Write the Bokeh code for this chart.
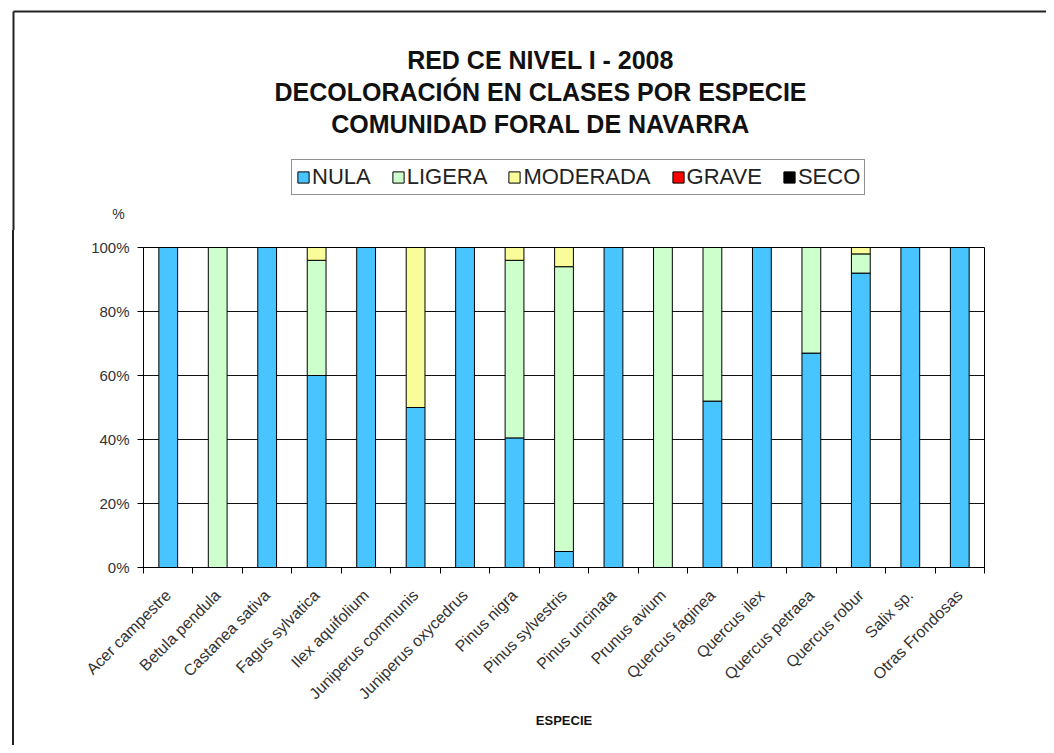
import math
from bokeh.plotting import figure
from bokeh.layouts import column, row
from bokeh.models import (ColumnDataSource, Legend, LegendItem, Label, Div,
                          FixedTicker, PrintfTickFormatter)
from bokeh.embed import file_html
from bokeh.resources import INLINE

# ---------------- data ----------------
species = ["Acer campestre", "Betula pendula", "Castanea sativa", "Fagus sylvatica",
           "Ilex aquifolium", "Juniperus communis", "Juniperus oxycedrus", "Pinus nigra",
           "Pinus sylvestris", "Pinus uncinata", "Prunus avium", "Quercus faginea",
           "Quercus ilex", "Quercus petraea", "Quercus robur", "Salix sp.",
           "Otras Frondosas"]
classes = ["NULA", "LIGERA", "MODERADA", "GRAVE", "SECO"]
nula     = [100, 0, 100, 60, 100, 50, 100, 40.5, 5, 100, 0, 52, 100, 67, 92, 100, 100]
ligera   = [0, 100, 0, 36, 0, 0, 0, 55.5, 89, 0, 100, 48, 0, 33, 6, 0, 0]
moderada = [0, 0, 0, 4, 0, 50, 0, 4, 6, 0, 0, 0, 0, 0, 2, 0, 0]
grave    = [0, 0, 0, 0, 0, 0, 0, 0, 0, 0, 0, 0, 0, 0, 0, 0, 0]
seco     = [0, 0, 0, 0, 0, 0, 0, 0, 0, 0, 0, 0, 0, 0, 0, 0, 0]
y_ticks = [0, 20, 40, 60, 80, 100]
title_lines = ["RED CE NIVEL I - 2008",
               "DECOLORACIÓN EN CLASES POR ESPECIE",
               "COMUNIDAD FORAL DE NAVARRA"]
y_title = "%"
x_title = "ESPECIE"

colors = ["#48C4FF", "#CCFFCC", "#F9FC99", "#FF0000", "#000000"]
FONT = "Liberation Sans"
BORDER = "#222222"

# ---------------- header (title + legend), frame = whole canvas ----------------
HW, HH = 1046, 230
head = figure(width=HW, height=HH, x_range=(0, HW), y_range=(0, HH),
              x_axis_type=None, y_axis_type=None,
              output_backend="svg", toolbar_location=None, tools="",
              min_border=0, outline_line_color=None)
head.grid.visible = False
head.background_fill_color = "white"
head.border_fill_color = "white"
# outer chart border (top + left)
head.segment(x0=[13, 13], y0=[HH - 11, HH - 11], x1=[HW, 13], y1=[HH - 11, 0],
             line_color=BORDER, line_width=2)

for line, ty in zip(title_lines, [171, 139, 107]):
    head.add_layout(Label(x=540, y=ty, text=line, text_align="center",
                          text_baseline="middle", text_font=FONT,
                          text_font_size="25px", text_font_style="bold",
                          text_color="#111111"))
head.add_layout(Label(x=118, y=17, text=y_title, text_align="center",
                      text_baseline="middle", text_font=FONT,
                      text_font_size="14px", text_color="#333333"))

# legend proxies (off-canvas renderers carrying the series styles)
proxy_src = ColumnDataSource(dict(x=[-1000], top=[0]))
proxies = [head.vbar(x="x", top="top", width=1, fill_color=c, line_color="black",
                     source=proxy_src) for c in colors]
legend = Legend(items=[LegendItem(label=c, renderers=[r]) for c, r in zip(classes, proxies)],
                orientation="horizontal", location=(291, 35),
                glyph_width=14, glyph_height=14, label_standoff=2, spacing=20,
                padding=4, margin=0, label_height=20,
                label_text_font=FONT, label_text_font_size="22px",
                label_text_color="#222222",
                border_line_color=BORDER, border_line_width=1.5,
                background_fill_color="white", background_fill_alpha=1)
head.add_layout(legend, "center")

# ---------------- main chart ----------------
MH = 515
left_border = Div(text="", width=14, height=MH, margin=0,
                  styles={"border-right": "2px solid #222222"})

n = len(species)
xs = [i + 0.5 for i in range(n)]
src = ColumnDataSource(dict(x=xs, NULA=nula, LIGERA=ligera, MODERADA=moderada,
                            GRAVE=grave, SECO=seco))

p = figure(width=1032, height=MH, x_range=(0, n), y_range=(0, 100),
           output_backend="svg", toolbar_location=None, tools="",
           min_border_left=129, min_border_right=62,
           min_border_top=17, min_border_bottom=178)
p.background_fill_color = "white"
p.border_fill_color = "white"
p.outline_line_color = "black"
p.outline_line_width = 1

p.vbar_stack(classes, x="x", width=0.38, fill_color=colors,
             line_color="black", line_width=1, source=src)

p.xgrid.grid_line_color = None
p.ygrid.grid_line_color = "#111111"
p.ygrid.grid_line_width = 1
p.ygrid.ticker = FixedTicker(ticks=y_ticks)

p.yaxis.ticker = FixedTicker(ticks=y_ticks)
p.yaxis.formatter = PrintfTickFormatter(format="%d%%")
p.yaxis.major_tick_out = 6
p.yaxis.major_tick_in = 0
p.yaxis.minor_tick_line_color = None
p.yaxis.axis_line_color = "black"
p.yaxis.major_tick_line_color = "black"
p.yaxis.major_label_text_font = FONT
p.yaxis.major_label_text_font_size = "15px"
p.yaxis.major_label_text_color = "#333333"
p.yaxis.major_label_standoff = 8

p.xaxis.ticker = FixedTicker(ticks=xs, minor_ticks=list(range(n + 1)))
p.xaxis.major_label_overrides = {x: s for x, s in zip(xs, species)}
p.xaxis.major_label_orientation = math.pi / 4
p.xaxis.major_tick_line_color = None
p.xaxis.minor_tick_out = 6
p.xaxis.minor_tick_in = 0
p.xaxis.minor_tick_line_color = "black"
p.xaxis.axis_line_color = "black"
p.xaxis.major_label_text_font = FONT
p.xaxis.major_label_text_font_size = "16px"
p.xaxis.major_label_text_color = "#333333"
p.xaxis.major_label_standoff = 19
p.xaxis.axis_label = x_title
p.xaxis.axis_label_text_font = FONT
p.xaxis.axis_label_text_font_size = "13px"
p.xaxis.axis_label_text_font_style = "bold"
p.xaxis.axis_label_text_color = "#111111"
p.xaxis.axis_label_standoff = 2

layout = column(head, row(left_border, p))
open("out.html", "w").write(file_html(layout, INLINE))
